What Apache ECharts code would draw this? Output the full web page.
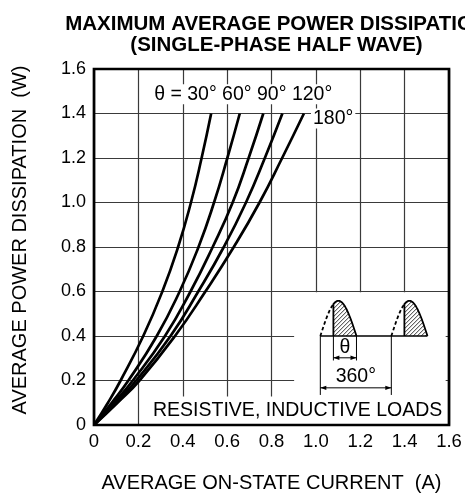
<!DOCTYPE html>
<html>
<head>
<meta charset="utf-8">
<script src="https://cdn.jsdelivr.net/npm/echarts@6/dist/echarts.min.js"></script>
<style>html,body{margin:0;padding:0;background:#fff}#c{width:465px;height:498px}</style>
</head>
<body>
<div id="c"></div>
<script>
// ---- data ----
var xTicks = [0, 0.2, 0.4, 0.6, 0.8, 1.0, 1.2, 1.4, 1.6];
var yTicks = [0, 0.2, 0.4, 0.6, 0.8, 1.0, 1.2, 1.4, 1.6];
var curveNames = ['30°', '60°', '90°', '120°', '180°'];
var powerLevels = [0, 0.1, 0.2, 0.4, 0.6, 0.8, 1.0, 1.2, 1.4];
var current30  = [0, 0.063, 0.120, 0.222, 0.308, 0.379, 0.437, 0.485, 0.528];
var current60  = [0, 0.080, 0.155, 0.283, 0.386, 0.471, 0.541, 0.601, 0.657];
var current90  = [0, 0.090, 0.175, 0.320, 0.435, 0.535, 0.625, 0.697, 0.763];
var current120 = [0, 0.098, 0.190, 0.345, 0.470, 0.585, 0.685, 0.770, 0.849];
var current180 = [0, 0.106, 0.205, 0.365, 0.502, 0.630, 0.746, 0.848, 0.946];
var curves = [current30, current60, current90, current120, current180];

var FONT = 'Liberation Sans, Arial, Helvetica, sans-serif';
var chart = echarts.init(document.getElementById('c'));

var series = curves.map(function (cur, i) {
  return {
    name: curveNames[i], type: 'line', smooth: 0.5, symbol: 'none',
    lineStyle: {color: '#000', width: 2.7}, z: 20,
    data: cur.map(function (x, k) { return [x, powerLevels[k]]; })
  };
});

chart.setOption({
  animation: false,
  backgroundColor: '#fff',
  title: {
    text: 'MAXIMUM AVERAGE POWER DISSIPATION\n(SINGLE-PHASE HALF WAVE)',
    left: 271.5, top: 9, textAlign: 'center',
    textStyle: {fontFamily: FONT, fontSize: 20.5, fontWeight: 'bold', color: '#000', lineHeight: 21}
  },
  grid: {left: 94, right: 16, top: 69, bottom: 73},
  xAxis: {
    type: 'value', min: 0, max: 1.6, interval: 0.2,
    name: 'AVERAGE ON-STATE CURRENT  (A)', nameLocation: 'middle', nameGap: 48,
    nameTextStyle: {fontFamily: FONT, fontSize: 20, color: '#000'},
    axisLine: {show: false}, axisTick: {show: false},
    axisLabel: {fontFamily: FONT, fontSize: 18.5, color: '#000', margin: 7,
      formatter: function (v) { return v === 0 ? '0' : v.toFixed(1); }},
    splitLine: {show: true, lineStyle: {color: '#3a3a3a', width: 1.2}}
  },
  yAxis: {
    type: 'value', min: 0, max: 1.6, interval: 0.2,
    name: 'AVERAGE POWER DISSIPATION  (W)', nameLocation: 'middle', nameGap: 64, nameRotate: 90,
    nameTextStyle: {fontFamily: FONT, fontSize: 20, color: '#000', padding: [0, 0, 0, 14]},
    axisLine: {show: false}, axisTick: {show: false},
    axisLabel: {fontFamily: FONT, fontSize: 18, color: '#000', margin: 8,
      formatter: function (v) { return v === 0 ? '0' : v.toFixed(1); }},
    splitLine: {show: true, lineStyle: {color: '#3a3a3a', width: 1.2}}
  },
  series: series
});

function P(x, y) { return chart.convertToPixel({gridIndex: 0}, [x, y]); }

var g = [];
var tl = P(0, 1.6), br = P(1.6, 0);
// white box behind the inset waveform
var b1 = P(0.902, 0.597), b2 = P(1.585, 0);
g.push({type: 'rect', z: 50, shape: {x: b1[0], y: b1[1], width: b2[0] - b1[0], height: b2[1] - b1[1]}, style: {fill: '#fff'}});
// white box behind bottom text
var t1 = P(0.25, 0.128);
g.push({type: 'rect', z: 50, shape: {x: t1[0], y: t1[1], width: b2[0] - t1[0], height: b2[1] - t1[1]}, style: {fill: '#fff'}});
// frame
g.push({type: 'rect', z: 60, shape: {x: tl[0], y: tl[1], width: br[0] - tl[0], height: br[1] - tl[1]},
  style: {fill: null, stroke: '#000', lineWidth: 2.7}});

// labels
function label(txt, x, y, align, bg, size) {
  var p = P(x, y);
  g.push({type: 'text', z: 70, x: p[0], y: p[1],
    style: {text: txt, font: (size || 19.5) + 'px ' + FONT, fill: '#000', align: align || 'left', verticalAlign: 'middle',
      backgroundColor: bg ? '#fff' : null, padding: bg ? [0, 2, 0, 2] : 0}});
}
label('θ = 30° 60° 90° 120°', 0.262, 1.486, 'left', true);
label('180°', 0.978, 1.378, 'left', true);
label('RESISTIVE, INDUCTIVE LOADS', 0.266, 0.064, 'left', false, 19.5);

// inset waveform (data units)
var base = 0.4, hx0 = 1.02, halfW = 0.163, humpH = 0.158, thetaOff = 0.059, period = 0.32;
var bp = P(0, base)[1];
var sl = P(hx0, base), sr = P(hx0 + period + halfW, base);
g.push({type: 'line', z: 70, shape: {x1: sl[0], y1: bp, x2: sr[0], y2: bp}, style: {stroke: '#000', lineWidth: 1.3}});

function hump(startX) {
  var x0p = P(startX, base)[0], x1p = P(startX + halfW, base)[0];
  var Wp = x1p - x0p, Hp = bp - P(0, base + humpH)[1];
  var tsp = P(startX + thetaOff, base)[0];
  function yAt(px) { return bp - Hp * Math.sin(Math.PI * (px - x0p) / Wp); }
  var dash = [], solid = [];
  for (var px = x0p; px <= tsp + 0.01; px += 0.5) dash.push([px, yAt(px)]);
  for (var px2 = tsp; px2 <= x1p + 0.01; px2 += 0.5) solid.push([px2, yAt(px2)]);
  // hatching
  for (var c = tsp - Hp; c <= x1p + 1; c += 4) {
    var mn = null, mx = null;
    for (var q = tsp; q <= x1p; q += 0.2) {
      var py = bp - (q - c);
      if (py <= bp && py >= yAt(q)) { if (mn === null) mn = q; mx = q; }
    }
    if (mn !== null && mx - mn > 0.5) {
      g.push({type: 'line', z: 70, shape: {x1: mn, y1: bp - (mn - c), x2: mx, y2: bp - (mx - c)},
        style: {stroke: '#000', lineWidth: 0.8}});
    }
  }
  g.push({type: 'polyline', z: 71, shape: {points: dash}, style: {stroke: '#000', lineWidth: 1.8, lineDash: [3.5, 2.5], fill: null}});
  solid.push([x1p, bp]);
  g.push({type: 'polyline', z: 71, shape: {points: [[tsp, bp]].concat(solid)}, style: {stroke: '#000', lineWidth: 1.8, fill: null}});
}
hump(hx0);
hump(hx0 + period);

function vline(x, y1, y2) {
  var a = P(x, y1), b = P(x, y2);
  g.push({type: 'line', z: 70, shape: {x1: a[0], y1: a[1], x2: b[0], y2: b[1]}, style: {stroke: '#000', lineWidth: 1}});
}
function arrow(xa, xb, y) {
  var a = P(xa, y), b = P(xb, y);
  g.push({type: 'line', z: 70, shape: {x1: a[0], y1: a[1], x2: b[0], y2: b[1]}, style: {stroke: '#000', lineWidth: 1}});
  g.push({type: 'polygon', z: 70, shape: {points: [[a[0], a[1]], [a[0] + 6, a[1] - 2.2], [a[0] + 6, a[1] + 2.2]]}, style: {fill: '#000'}});
  g.push({type: 'polygon', z: 70, shape: {points: [[b[0], b[1]], [b[0] - 6, b[1] - 2.2], [b[0] - 6, b[1] + 2.2]]}, style: {fill: '#000'}});
}
// theta dimension
vline(hx0 + thetaOff, base, 0.29);
vline(hx0 + halfW, base, 0.29);
arrow(hx0 + thetaOff, hx0 + halfW, 0.302);
label('θ', hx0 + thetaOff + (halfW - thetaOff) / 2, 0.35, 'center', false);
// 360 dimension
vline(hx0, base, 0.135);
vline(hx0 + period, base, 0.135);
arrow(hx0, hx0 + period, 0.167);
label('360°', hx0 + period / 2, 0.218, 'center', false);

chart.setOption({graphic: g});
</script>
</body>
</html>
